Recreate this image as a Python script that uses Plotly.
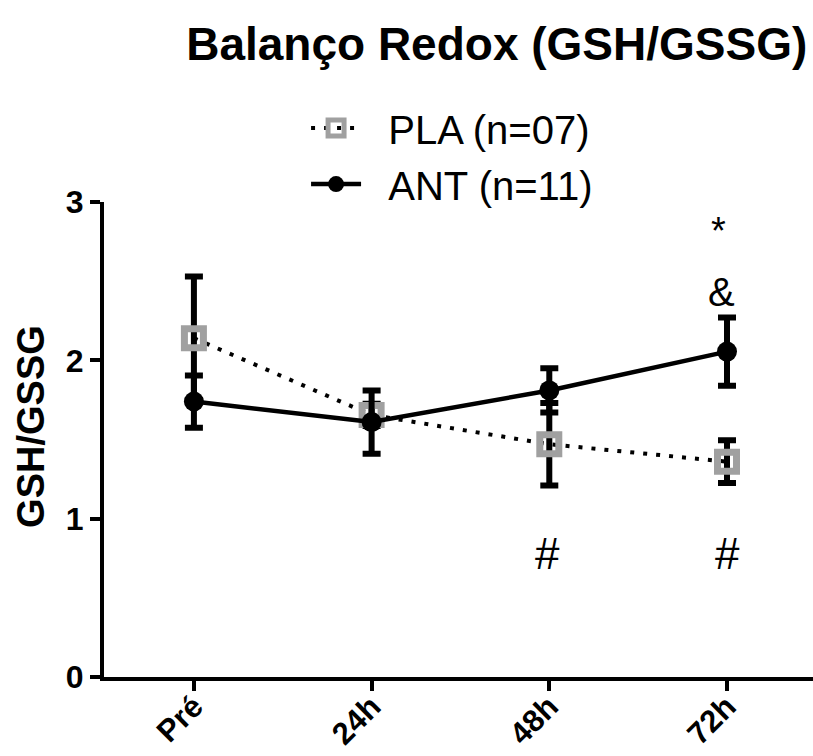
import plotly.graph_objects as go

categories = ["Pré", "24h", "48h", "72h"]
pla_mean = [2.14, 1.655, 1.47, 1.36]
pla_err = [0.39, 0.07, 0.26, 0.135]
ant_mean = [1.74, 1.61, 1.81, 2.055]
ant_err = [0.165, 0.20, 0.14, 0.215]
pla_name = "PLA (n=07)"
ant_name = "ANT (n=11)"
y_ticks = [0, 1, 2, 3]

FONT = "Arial, Liberation Sans, Helvetica, sans-serif"
xs = list(range(len(categories)))
NB = "\u00a0\u00a0"

fig = go.Figure()
fig.add_trace(go.Scatter(
    x=xs, y=pla_mean, name=NB + pla_name, mode="lines+markers",
    line=dict(color="black", width=4, dash="4px,9px"),
    marker=dict(symbol="square-open", size=19, color="#a0a0a0",
                line=dict(width=7, color="#a0a0a0")),
    error_y=dict(type="data", array=pla_err, visible=True, color="black",
                 thickness=6, width=9),
    legendgroup="a",
))
fig.add_trace(go.Scatter(
    x=xs, y=ant_mean, name=NB + ant_name, mode="lines+markers",
    line=dict(color="black", width=4.5),
    marker=dict(symbol="circle", size=20, color="black"),
    error_y=dict(type="data", array=ant_err, visible=True, color="black",
                 thickness=6, width=9),
    legendgroup="b",
))

annotations = [
    dict(x=2.95, y=2.82, text="*", showarrow=False, font=dict(family=FONT, size=38, color="black")),
    dict(x=2.97, y=2.43, text="&", showarrow=False, font=dict(family=FONT, size=40, color="black")),
    dict(x=1.99, y=0.78, text="#", showarrow=False, font=dict(family=FONT, size=44, color="black")),
    dict(x=3.0, y=0.78, text="#", showarrow=False, font=dict(family=FONT, size=44, color="black")),
    dict(x=-0.102, y=0.528, xref="paper", yref="paper", xanchor="center", yanchor="middle",
         text="<b>GSH/GSSG</b>",
         textangle=-90, showarrow=False, font=dict(family=FONT, size=38, color="black")),
]

fig.update_layout(
    width=813, height=756,
    margin=dict(l=104, r=0, t=202, b=79, autoexpand=False),
    paper_bgcolor="white", plot_bgcolor="white",
    title=dict(text="<b>Balanço Redox (GSH/GSSG)</b>", x=0.611, xanchor="center",
               xref="container", yref="container", y=0.942, yanchor="middle",
               font=dict(family=FONT, size=46, color="black")),
    showlegend=True,
    legend=dict(x=0.285, y=1.224, xanchor="left", yanchor="top",
                font=dict(family=FONT, size=40, color="black"),
                bgcolor="rgba(0,0,0,0)", tracegroupgap=1, itemwidth=50),
    annotations=annotations,
    xaxis=dict(range=[-0.506, 3.484], tickmode="array", tickvals=xs, ticktext=categories,
               tickangle=-45, showline=True, linecolor="black", linewidth=4,
               ticks="outside", ticklen=10, tickwidth=4, tickcolor="black",
               showgrid=False, zeroline=False, automargin=False,
               ticklabelstandoff=-15,
               tickfont=dict(family=FONT, size=31, color="black", weight="bold")),
    yaxis=dict(range=[0, 3], tickmode="array", tickvals=y_ticks,
               showline=True, linecolor="black", linewidth=4,
               ticks="outside", ticklen=10, tickwidth=4, tickcolor="black",
               showgrid=False, zeroline=False, automargin=False,
               tickfont=dict(family=FONT, size=32, color="black", weight="bold")),
)

fig.write_html("out.html")
